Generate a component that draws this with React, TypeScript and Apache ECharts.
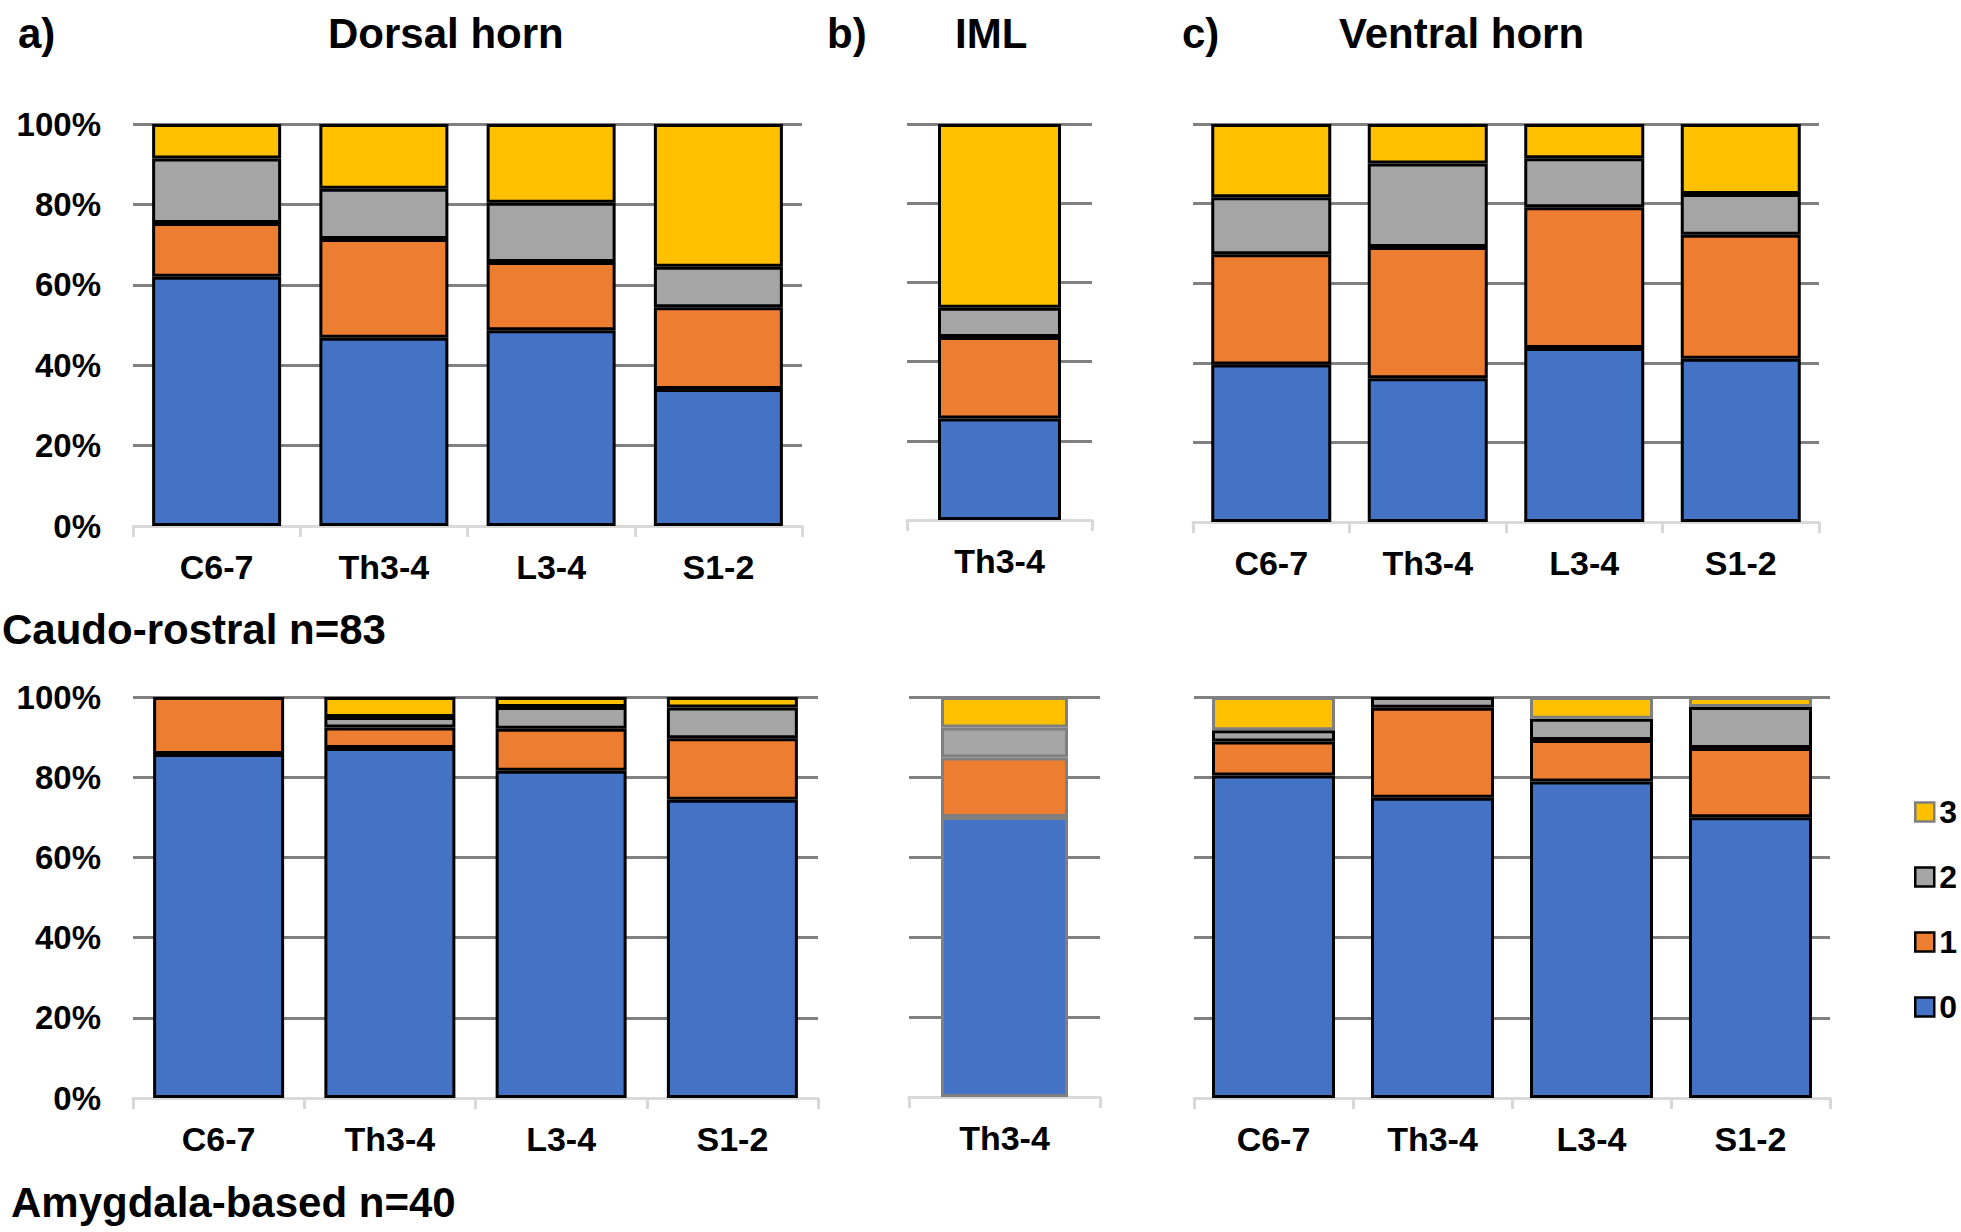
import React, { useEffect, useRef } from "react";
import * as echarts from "echarts";

const levelCats = ["C6-7", "Th3-4", "L3-4", "S1-2"];
const imlCats = ["Th3-4"];
const seriesNames = ["0", "1", "2", "3"];
const legendOrder = ["3", "2", "1", "0"];
const colors = ["#4472C4", "#ED7D31", "#A5A5A5", "#FFC000"];

// Caudo-rostral n=83
const crDorsal0 = [62.0, 46.8, 48.7, 34.1];
const crDorsal1 = [13.4, 24.6, 17.0, 20.3];
const crDorsal2 = [16.0, 12.5, 14.7, 10.1];
const crDorsal3 = [8.6, 16.1, 19.6, 35.5];
const crIml0 = [25.6];
const crIml1 = [20.6];
const crIml2 = [7.4];
const crIml3 = [46.4];
const crVentral0 = [39.6, 36.1, 43.7, 41.0];
const crVentral1 = [27.7, 33.0, 35.4, 31.2];
const crVentral2 = [14.3, 21.0, 12.3, 10.2];
const crVentral3 = [18.4, 9.9, 8.6, 17.6];

// Amygdala-based n=40
const amDorsal0 = [85.8, 87.3, 81.6, 74.4];
const amDorsal1 = [14.2, 5.1, 10.5, 15.3];
const amDorsal2 = [0, 2.6, 5.4, 7.7];
const amDorsal3 = [0, 5.0, 2.5, 2.6];
const amIml0 = [70.0];
const amIml1 = [14.9];
const amIml2 = [7.5];
const amIml3 = [7.6];
const amVentral0 = [80.4, 74.9, 78.9, 70.0];
const amVentral1 = [8.5, 22.4, 10.4, 17.3];
const amVentral2 = [2.8, 2.7, 5.3, 10.2];
const amVentral3 = [8.3, 0, 5.4, 2.5];

const FONT = "'Liberation Sans', Arial, sans-serif";
const BLACK = "#000000";
const GREYB = "#7F7F7F";

const panels = [
  { grid: { left: 133, top: 124, width: 669, height: 402 }, cats: levelCats, showY: true, barWidth: 129,
    data: [crDorsal0, crDorsal1, crDorsal2, crDorsal3], borders: [BLACK, BLACK, BLACK, BLACK] },
  { grid: { left: 907, top: 124, width: 185, height: 396 }, cats: imlCats, showY: false, barWidth: 123,
    data: [crIml0, crIml1, crIml2, crIml3], borders: [BLACK, BLACK, BLACK, BLACK] },
  { grid: { left: 1193, top: 124, width: 626, height: 398 }, cats: levelCats, showY: false, barWidth: 120,
    data: [crVentral0, crVentral1, crVentral2, crVentral3], borders: [BLACK, BLACK, BLACK, BLACK] },
  { grid: { left: 133, top: 697, width: 685, height: 401 }, cats: levelCats, showY: true, barWidth: 131,
    data: [amDorsal0, amDorsal1, amDorsal2, amDorsal3], borders: [BLACK, BLACK, BLACK, BLACK] },
  { grid: { left: 909, top: 697, width: 191, height: 400 }, cats: imlCats, showY: false, barWidth: 127,
    data: [amIml0, amIml1, amIml2, amIml3], borders: [GREYB, GREYB, GREYB, GREYB] },
  { grid: { left: 1194, top: 697, width: 636, height: 401 }, cats: levelCats, showY: false, barWidth: 123,
    data: [amVentral0, amVentral1, amVentral2, amVentral3], borders: [BLACK, BLACK, BLACK, GREYB] },
];

export default function App() {
  const ref = useRef<HTMLDivElement>(null);
  useEffect(() => {
    if (!ref.current) return;
    const chart = echarts.init(ref.current, null, { renderer: "svg" });
    const grids = panels.map((p) => ({ ...p.grid, containLabel: false }));
    const xAxes = panels.map((p, i) => ({
      type: "category",
      gridIndex: i,
      data: p.cats,
      axisLine: { show: true, lineStyle: { color: "#D9D9D9", width: 3 } },
      axisTick: { show: true, length: 11, lineStyle: { color: "#D9D9D9", width: 3 } },
      axisLabel: { color: "#000", fontSize: 34, fontWeight: "bold", fontFamily: FONT, margin: 24 },
    }));
    const yAxes = panels.map((p, i) => ({
      type: "value",
      gridIndex: i,
      min: 0,
      max: 100,
      interval: 20,
      axisLine: { show: false },
      axisTick: { show: false },
      axisLabel: {
        show: p.showY,
        formatter: "{value}%",
        color: "#000",
        fontSize: 33,
        fontWeight: "bold",
        fontFamily: FONT,
        margin: 32,
      },
      splitLine: { show: true, showMinLine: false, lineStyle: { color: "#808080", width: 3 } },
    }));
    const series: any[] = [];
    panels.forEach((p, i) => {
      p.data.forEach((vals, k) => {
        series.push({
          type: "bar",
          name: seriesNames[k],
          xAxisIndex: i,
          yAxisIndex: i,
          stack: "s" + i,
          barWidth: p.barWidth,
          data: vals.map((v) => (v === 0 ? null : v)),
          itemStyle: { color: colors[k], borderColor: p.borders[k], borderWidth: 3 },
          emphasis: { disabled: true },
        });
      });
    });
    const titleStyle = { fontSize: 42, fontWeight: "bold", fontFamily: FONT, fill: "#000", verticalAlign: "middle" };
    const texts = [
      { t: "a)", x: 18, y: 33 },
      { t: "Dorsal horn", x: 328, y: 33 },
      { t: "b)", x: 827, y: 33 },
      { t: "IML", x: 955, y: 33 },
      { t: "c)", x: 1182, y: 33 },
      { t: "Ventral horn", x: 1339, y: 33 },
      { t: "Caudo-rostral n=83", x: 2, y: 629 },
      { t: "Amygdala-based n=40", x: 11, y: 1202 },
    ];
    chart.setOption({
      animation: false,
      backgroundColor: "#ffffff",
      grid: grids,
      xAxis: xAxes,
      yAxis: yAxes,
      series,
      legend: {
        orient: "vertical",
        left: 1914,
        top: 796,
        padding: 0,
        itemWidth: 19,
        itemHeight: 19,
        itemGap: 33,
        icon: "rect",
        selectedMode: false,
        data: legendOrder.map((n) => ({
          name: n,
          itemStyle: { color: colors[Number(n)], borderColor: n === "3" ? GREYB : BLACK, borderWidth: 2.5 },
        })),
        textStyle: { fontSize: 32, fontWeight: "bold", fontFamily: FONT, color: "#000", lineHeight: 32 },
      },
      graphic: texts.map((d) => ({
        type: "text",
        x: d.x,
        y: d.y,
        style: { ...titleStyle, text: d.t },
      })),
    });
    return () => chart.dispose();
  }, []);
  return (
    <div
      ref={ref}
      style={{ position: "fixed", left: 0, top: 0, width: 1961, height: 1232, background: "#fff" }}
    />
  );
}
